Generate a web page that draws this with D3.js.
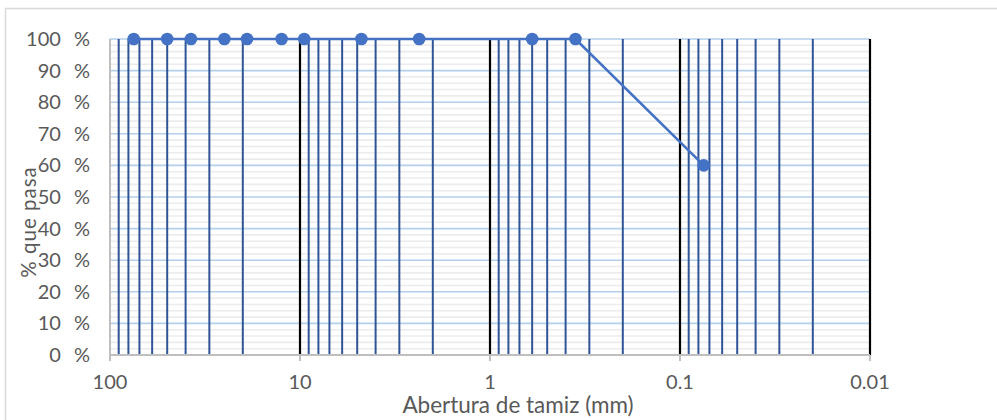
<!DOCTYPE html>
<html><head><meta charset="utf-8">
<script src="https://cdn.jsdelivr.net/npm/d3@7"></script>
<style>body{margin:0;background:#fff;} svg{display:block;}</style>
</head><body>
<svg id="c" width="997" height="420"></svg>
<script>
const sieveSizes = [75, 50, 37.5, 25, 19, 12.5, 9.5, 4.75, 2.36, 0.6, 0.355, 0.075];
const percentPassing = [100, 100, 100, 100, 100, 100, 100, 100, 100, 100, 100, 60];
const xTickValues = [100, 10, 1, 0.1, 0.01];
const xTickLabels = ["100", "10", "1", "0.1", "0.01"];
const yTickValues = [0, 10, 20, 30, 40, 50, 60, 70, 80, 90, 100];
const yTickLabels = ["0 %", "10 %", "20 %", "30 %", "40 %", "50 %", "60 %", "70 %", "80 %", "90 %", "100 %"];
const xTitle = "Abertura de tamiz (mm)";
const yTitle = "% que pasa";

const svg = d3.select("#c");
const font = "Lato, 'Open Sans', sans-serif";
const L = 110, R = 870, T = 39, B = 355;
const x = d3.scaleLog().domain([100, 0.01]).range([L, R]);
const y = d3.scaleLinear().domain([0, 100]).range([B, T]);

// chart frame
svg.append("rect").attr("x", 5.5).attr("y", 8.5).attr("width", 1000).attr("height", 430)
  .attr("fill", "#fff").attr("stroke", "#d9d9d9").attr("stroke-width", 1.5);

// minor horizontal gridlines every 2%
const minorY = d3.range(0, 101, 2).filter(v => v % 10 !== 0);
svg.append("g").selectAll("line").data(minorY).join("line")
  .attr("x1", L).attr("x2", R).attr("y1", d => y(d)).attr("y2", d => y(d))
  .attr("stroke", "#ececec").attr("stroke-width", 1.6);
// major horizontal gridlines
svg.append("g").selectAll("line").data(yTickValues.filter(v => v > 0)).join("line")
  .attr("x1", L).attr("x2", R).attr("y1", d => y(d)).attr("y2", d => y(d))
  .attr("stroke", "#b4cfeb").attr("stroke-width", 1.6);

// vertical log gridlines
const allX = x.ticks();
const decades = allX.filter(v => Math.abs(Math.log10(v) - Math.round(Math.log10(v))) < 1e-9);
const minorX = allX.filter(v => !decades.includes(v));
svg.append("g").selectAll("line").data(minorX).join("line")
  .attr("x1", d => x(d)).attr("x2", d => x(d)).attr("y1", T).attr("y2", B)
  .attr("stroke", "#2f5597").attr("stroke-width", 2);
svg.append("g").selectAll("line").data(decades.filter(v => v < 100)).join("line")
  .attr("x1", d => x(d)).attr("x2", d => x(d)).attr("y1", T).attr("y2", B)
  .attr("stroke", "#000").attr("stroke-width", 2.2);

// axes lines
svg.append("line").attr("x1", L).attr("x2", L).attr("y1", T).attr("y2", B + 6)
  .attr("stroke", "#bfbfbf").attr("stroke-width", 2);
svg.append("line").attr("x1", L).attr("x2", R).attr("y1", B).attr("y2", B)
  .attr("stroke", "#bfbfbf").attr("stroke-width", 2);
svg.append("g").selectAll("line").data(xTickValues).join("line")
  .attr("x1", d => x(d)).attr("x2", d => x(d)).attr("y1", B).attr("y2", B + 6)
  .attr("stroke", "#bfbfbf").attr("stroke-width", 2);

// tick labels
svg.append("g").selectAll("text").data(yTickValues).join("text")
  .attr("x", 90).attr("y", d => y(d)).attr("dy", "0.35em").attr("text-anchor", "end")
  .attr("font-family", font).attr("font-size", 20).attr("fill", "#595959")
  .attr("word-spacing", 8)
  .text((d, i) => yTickLabels[i]);
svg.append("g").selectAll("text").data(xTickValues).join("text")
  .attr("x", d => x(d)).attr("y", 389).attr("text-anchor", "middle")
  .attr("font-family", font).attr("font-size", 20).attr("fill", "#595959")
  .text((d, i) => xTickLabels[i]);

// titles
svg.append("text").attr("x", 518).attr("y", 413).attr("text-anchor", "middle")
  .attr("font-family", font).attr("font-size", 22.5).attr("fill", "#595959").text(xTitle);
svg.append("text").attr("transform", "translate(36,222) rotate(-90)").attr("text-anchor", "middle")
  .attr("font-family", font).attr("font-size", 20.5).attr("letter-spacing", 1).attr("fill", "#595959").text(yTitle);

// series
const pts = sieveSizes.map((s, i) => [s, percentPassing[i]]);
svg.append("path").datum(pts)
  .attr("d", d3.line().x(d => x(d[0])).y(d => y(d[1])))
  .attr("fill", "none").attr("stroke", "#4472c4").attr("stroke-width", 2.6);
svg.append("g").selectAll("circle").data(pts).join("circle")
  .attr("cx", d => x(d[0])).attr("cy", d => y(d[1])).attr("r", 6.3).attr("fill", "#4472c4");
</script>
</body></html>
